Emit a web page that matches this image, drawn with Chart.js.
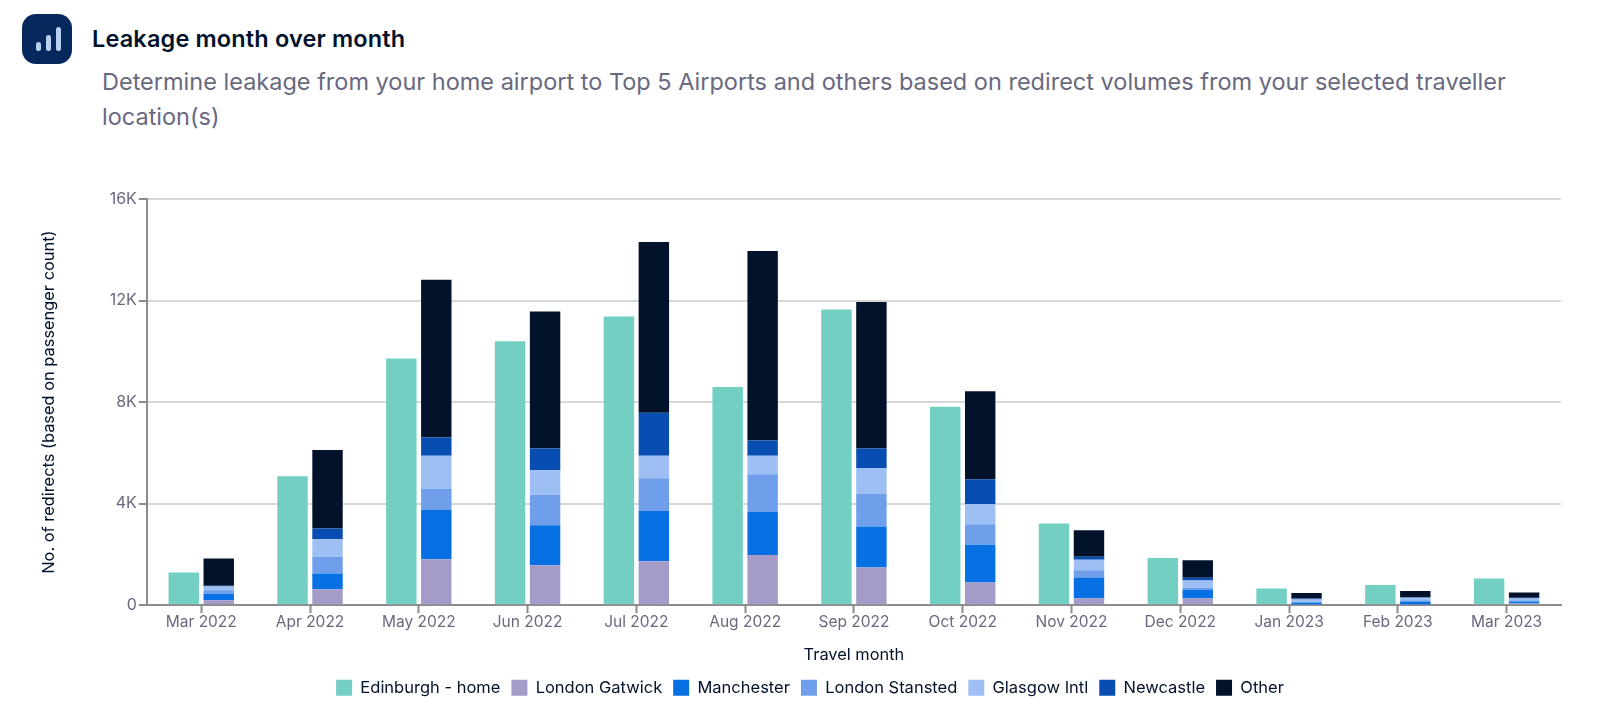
<!DOCTYPE html>
<html>
<head>
<meta charset="utf-8">
<title>Leakage month over month</title>
<script src="https://cdn.jsdelivr.net/npm/chart.js@4"></script>
<style>
    html, body { margin: 0; padding: 0; background: #fff; width: 1600px; height: 706px; overflow: hidden; font-family: Inter, sans-serif; }
    .icon { position: absolute; left: 22px; top: 14px; width: 50px; height: 50px; border-radius: 14px; background: #05295c; }
    .icon span { position: absolute; width: 5px; bottom: 13px; background: #b9d0f2; border-radius: 3px; }
    h1 { position: absolute; left: 92px; top: 24px; margin: 0; font-size: 23.5px; line-height: 30px; font-weight: 600; letter-spacing: 0.15px; color: #02122b; white-space: nowrap; }
    p { position: absolute; left: 102px; top: 64px; width: 1440px; margin: 0; font-size: 23.5px; line-height: 35px; color: #68697f; }
    #wrap { position: absolute; left: 0; top: 170px; width: 1600px; height: 536px; }
</style>
</head>
<body>
<div class="icon"><span style="left:14px;height:9px"></span><span style="left:24px;height:16px"></span><span style="left:34px;height:24px"></span></div>
<h1>Leakage month over month</h1>
<p>Determine leakage from your home airport to Top 5 Airports and others based on redirect volumes from your selected traveller location(s)</p>
<div id="wrap"><canvas id="chart"></canvas></div>
<script>
const months = ["Mar 2022", "Apr 2022", "May 2022", "Jun 2022", "Jul 2022", "Aug 2022", "Sep 2022", "Oct 2022", "Nov 2022", "Dec 2022", "Jan 2023", "Feb 2023", "Mar 2023"];
const yTicks = [0, 4000, 8000, 12000, 16000];

const edinburgh = [1290, 5080, 9720, 10400, 11370, 8600, 11650, 7820, 3220, 1860, 660, 800, 1050];
const gatwick = [200, 630, 1810, 1570, 1730, 1980, 1490, 890, 270, 270, 30, 30, 70];
const manchester = [240, 620, 1940, 1580, 1980, 1690, 1610, 1490, 820, 330, 80, 120, 80];
const stansted = [150, 660, 850, 1200, 1290, 1490, 1300, 810, 290, 80, 30, 50, 50];
const glasgow = [150, 690, 1290, 970, 890, 730, 1000, 800, 410, 290, 90, 90, 60];
const newcastle = [30, 420, 720, 850, 1690, 600, 770, 970, 120, 110, 30, 20, 30];
const other = [1070, 3090, 6210, 5400, 6730, 7460, 5770, 3470, 1040, 690, 220, 250, 210];

const inkColor = "#02122b";
const labelColor = "#68697f";
const axisColor = "#8c8c8c";
const gridColor = "#d8d8d8";
const fontName = "Inter, sans-serif";

const series = (label, data, color, stack) => ({
    label, data, stack,
    backgroundColor: color,
    borderWidth: 0,
    categoryPercentage: 0.643,
    barPercentage: 0.87
});

// the legend sits a little right of the canvas centre
const legendShift = {
    id: "legendShift",
    afterLayout(chart) {
        chart.legend.left += 10;
        chart.legend.right += 10;
    }
};

new Chart(document.getElementById("chart"), {
    type: "bar",
    plugins: [legendShift],
    data: {
        labels: months,
        datasets: [
            series("Edinburgh - home", edinburgh, "#74cfc3", "home"),
            series("London Gatwick", gatwick, "#a59bc8", "away"),
            series("Manchester", manchester, "#0770e3", "away"),
            series("London Stansted", stansted, "#6f9fea", "away"),
            series("Glasgow Intl", glasgow, "#9dbff3", "away"),
            series("Newcastle", newcastle, "#084eb2", "away"),
            series("Other", other, inkColor, "away")
        ]
    },
    options: {
        responsive: true,
        maintainAspectRatio: false,
        animation: false,
        layout: { padding: { left: 39, right: 39, top: 29, bottom: 0 } },
        plugins: {
            tooltip: { enabled: false },
            legend: {
                position: "bottom",
                labels: { boxWidth: 16, boxHeight: 16, padding: 11, color: inkColor, font: { family: fontName, size: 16.5 } }
            }
        },
        scales: {
            x: {
                stacked: true,
                grid: { offset: false, drawOnChartArea: false, drawTicks: true, tickLength: 8, tickColor: axisColor, tickWidth: 2 },
                border: { color: axisColor, width: 2 },
                ticks: { color: labelColor, font: { family: fontName, size: 15.5 }, padding: 0, maxRotation: 0 },
                title: { display: true, text: "Travel month", color: inkColor, font: { family: fontName, size: 16.4 }, padding: { top: 13, bottom: 4 } }
            },
            y: {
                stacked: true,
                min: 0,
                max: 16000,
                afterBuildTicks: (scale) => { scale.ticks = yTicks.map(value => ({ value })); },
                grid: { color: gridColor, lineWidth: 2, tickLength: 8, tickColor: axisColor, tickWidth: 2 },
                border: { color: axisColor, width: 2 },
                ticks: {
                    color: labelColor,
                    font: { family: fontName, size: 16 },
                    padding: 2,
                    callback: (v) => v === 0 ? "0" : (v / 1000) + "K"
                },
                title: { display: true, text: "No. of redirects (based on passenger count)", color: inkColor, font: { family: fontName, size: 16.4 }, padding: { top: 0, bottom: 49 } }
            }
        }
    }
});
</script>
</body>
</html>
